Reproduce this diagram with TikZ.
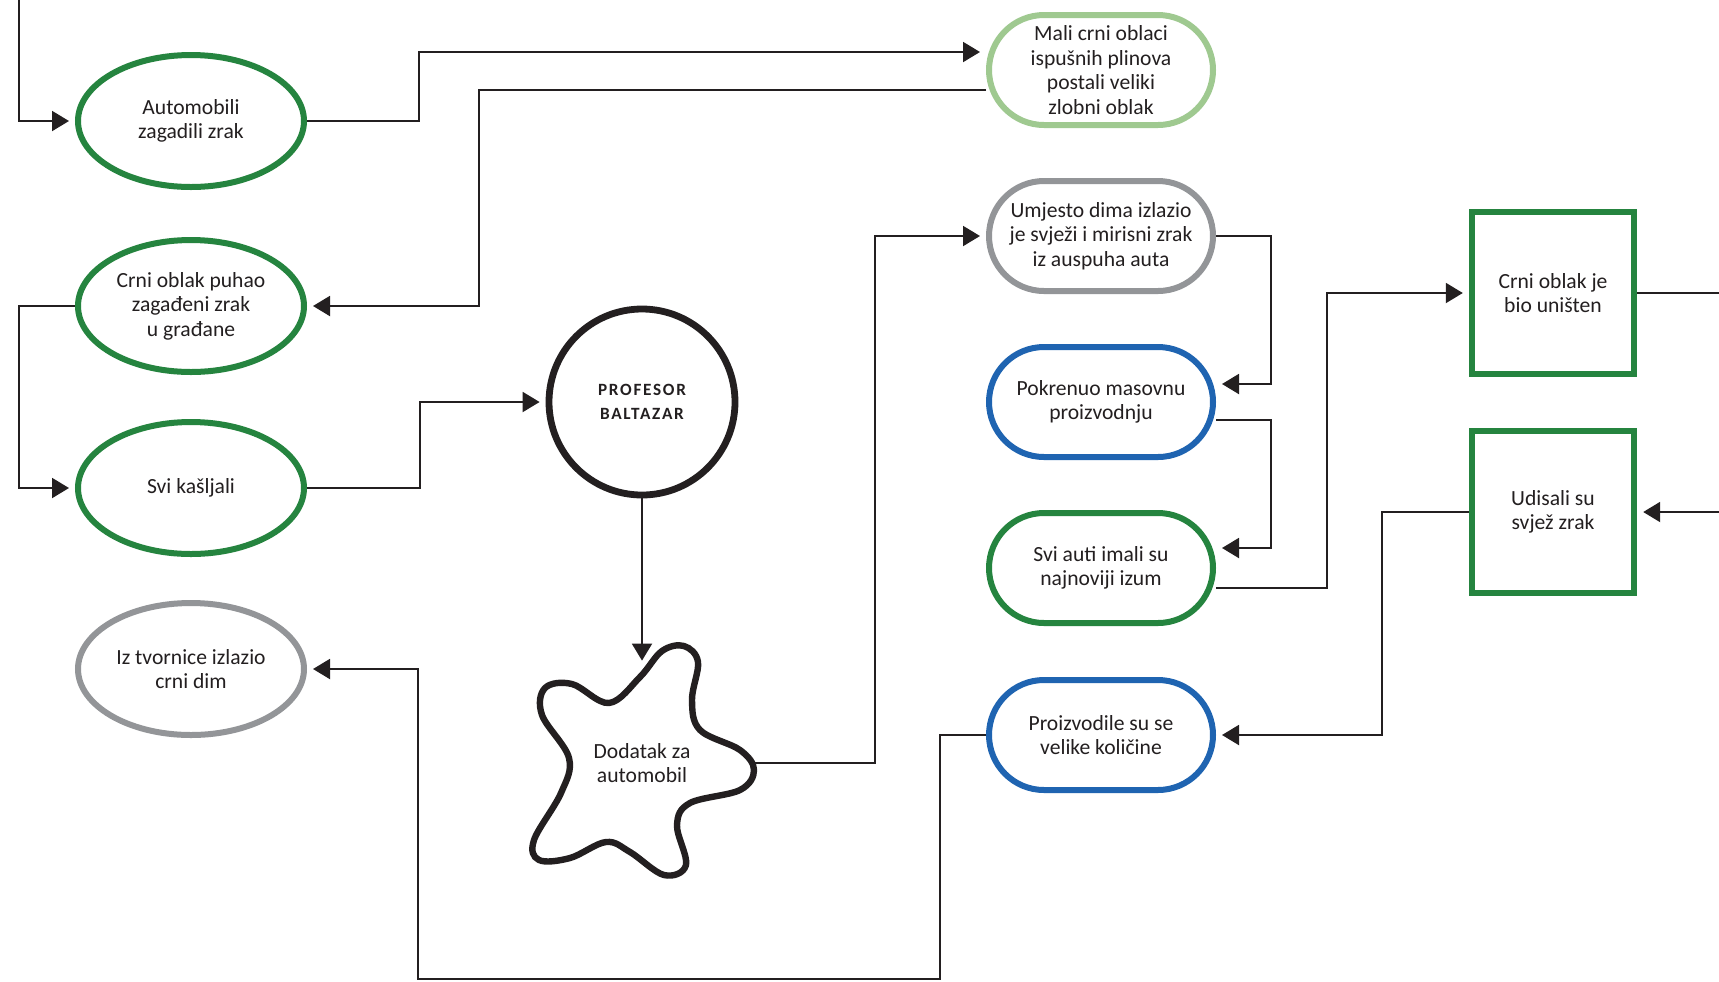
\documentclass[tikz,border=0pt]{standalone}
\usepackage{fontspec}
\setmainfont{Carlito}
\usetikzlibrary{arrows.meta, shapes.geometric}
\definecolor{cInk}{HTML}{231F20}
\definecolor{cGrn}{HTML}{25843F}
\definecolor{cGrnL}{HTML}{9FC990}
\definecolor{cGry}{HTML}{939598}
\definecolor{cBlu}{HTML}{1F64B1}

\begin{document}
\begin{tikzpicture}[x=0.5pt, y=-0.5pt,
    every node/.style={align=center, text=cInk, font=\fontsize{10.8}{12.2}\selectfont},
    oval/.style={ellipse, draw=#1, line width=3pt, minimum width=113pt, minimum height=66pt, inner sep=0pt},
    pill/.style={rectangle, rounded corners=27.5pt, draw=#1, line width=3pt, minimum width=112pt, minimum height=55pt, inner sep=0pt},
    sq/.style={rectangle, draw=cGrn, line width=3.2pt, minimum width=81pt, minimum height=81pt, inner sep=0pt},
    conn/.style={draw=cInk, line width=1pt},
    arr/.style={conn, -{Triangle[length=8.5pt,width=10pt]}, shorten >=3pt}]
  \useasboundingbox (0,0) rectangle (1719,981);
  \fill[white] (0,0) rectangle (1719,981);

  % left column
  \foreach \nm/\y/\col/\txt in {%
      a1/121/cGrn/{Automobili\\zagadili zrak},
      a2/306/cGrn/{Crni oblak puhao\\zagađeni zrak\\u građane},
      a3/488/cGrn/{Svi kašljali},
      a4/669/cGry/{Iz tvornice izlazio\\crni dim}%
  }{
    \node[oval=\col] (\nm) at (191,\y) {\txt};
  }

  % right column
  \foreach \nm/\y/\col/\txt in {%
      r1/70/cGrnL/{Mali crni oblaci\\ispušnih plinova\\postali veliki\\zlobni oblak},
      r2/236/cGry/{Umjesto dima izlazio\\je svježi i mirisni zrak\\iz auspuha auta},
      r3/402/cBlu/{Pokrenuo masovnu\\proizvodnju},
      r4/568/cGrn/{Svi auti imali su\\najnoviji izum},
      r5/735/cBlu/{Proizvodile su se\\velike količine}%
  }{
    \node[pill=\col] (\nm) at (1101,\y) {\txt};
  }

  \node[sq] (s1) at (1553,293) {Crni oblak je\\bio uništen};
  \node[sq] (s2) at (1553,512) {Udisali su\\svjež zrak};

  \node[circle, draw=cInk, line width=3.4pt, minimum size=93pt, inner sep=0pt,
        font=\fontsize{8.6}{12}\selectfont\bfseries\addfontfeatures{LetterSpace=10}]
        (prof) at (642,402) {PROFESOR\\BALTAZAR};

  % blob
  \draw[cInk, line width=3.2pt] plot[smooth cycle, tension=0.6] coordinates {
    (609,703) (640,677) (662,651) (684,646) (698,662) (692,700) (700,730)
    (740,750) (754,770) (740,790) (690,803) (677,825) (686,865) (664,875)
    (630,852) (606,842) (570,858) (539,860) (534,840) (561,793) (569,758)
    (542,715) (545,688) (572,684)};
  \node[minimum width=112pt, minimum height=102pt, inner sep=0pt] (dod) at (642,763) {Dodatak za\\automobil};

  \coordinate (topIn) at (19,0);
  \coordinate (outA) at (1719,293);
  \coordinate (inB) at (1719,512);

  % connectors
  \draw[arr] (topIn) |- (a1.west);
  \draw[arr] (a1.east) -| (419,52) -- ([yshift=9pt]r1.west);
  \draw[arr] ([yshift=-10pt]r1.west) -| (479,306) -- (a2.east);
  \draw[arr] (a2.west) -| (19,488) -- (a3.west);
  \draw[arr] (a3.east) -| (420,402) -- (prof.west);
  \draw[arr, shorten >=0pt] (prof.south) -- (dod.north);
  \draw[arr] (dod.east) -| (875,236) -- (r2.west);
  \draw[arr] (r2.east) -| (1271,384) -- ([yshift=9pt]r3.east);
  \draw[arr] ([yshift=-9pt]r3.east) -| (1271,548) -- ([yshift=10pt]r4.east);
  \draw[arr] ([yshift=-10pt]r4.east) -| (1327,293) -- (s1.west);
  \draw[conn] (s1.east) -- (outA);
  \draw[arr] (inB) -- (s2.east);
  \draw[arr] (s2.west) -| (1382,735) -- (r5.east);
  \draw[arr] (r5.west) -| (940,979) -| (418,669) -- (a4.east);
\end{tikzpicture}
\end{document}
